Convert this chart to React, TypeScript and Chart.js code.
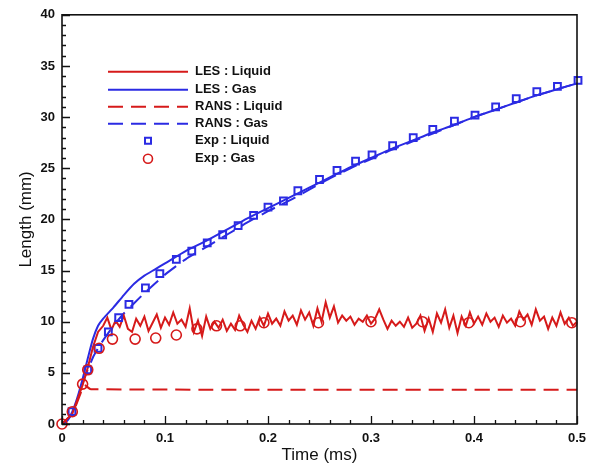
import { useEffect, useRef } from 'react';
import { Chart, registerables } from 'chart.js';
Chart.register(...registerables);

// ---- Data ----
const lesGasX = [0, 0.005, 0.01, 0.015, 0.02, 0.025, 0.03, 0.035, 0.04, 0.05, 0.06, 0.07, 0.08, 0.09, 0.1, 0.12, 0.14, 0.16, 0.18, 0.2, 0.22, 0.24, 0.26, 0.28, 0.3, 0.32, 0.34, 0.36, 0.38, 0.4, 0.42, 0.44, 0.46, 0.48, 0.5];
const lesGasY = [0, 0.3, 1.2, 2.6, 4.4, 6.4, 8.3, 9.6, 10.3, 11.4, 12.6, 13.7, 14.5, 15.1, 15.7, 16.9, 17.9, 19.0, 20.1, 21.1, 22.1, 23.1, 24.1, 25.1, 26.0, 26.9, 27.7, 28.5, 29.2, 30.0, 30.7, 31.4, 32.1, 32.7, 33.3];

const ransGasX = [0, 0.01, 0.02, 0.025, 0.03, 0.035, 0.04, 0.05, 0.06, 0.07, 0.08, 0.09, 0.1, 0.12, 0.14, 0.16, 0.18, 0.2, 0.22, 0.24, 0.26, 0.28, 0.3, 0.32, 0.34, 0.36, 0.38, 0.4, 0.42, 0.44, 0.46, 0.48, 0.5];
const ransGasY = [0, 1.0, 4.0, 5.3, 6.5, 7.4, 8.2, 9.6, 10.8, 11.8, 12.8, 13.7, 14.6, 16.1, 17.3, 18.5, 19.7, 20.8, 21.8, 22.9, 24.0, 25.0, 25.9, 26.8, 27.6, 28.4, 29.2, 30.0, 30.7, 31.4, 32.1, 32.7, 33.3];

const ransLiqX = [0, 0.01, 0.02, 0.022, 0.028, 0.5];
const ransLiqY = [0, 1.0, 3.5, 3.8, 3.4, 3.35];

const lesLiqX = [0, 0.01, 0.02, 0.025, 0.03, 0.035,
  0.040, 0.044, 0.048, 0.052, 0.056, 0.060, 0.064, 0.068, 0.072, 0.076, 0.080, 0.084, 0.088, 0.092, 0.096,
  0.100, 0.104, 0.108, 0.112, 0.116, 0.120, 0.124, 0.128, 0.132, 0.136, 0.140, 0.144, 0.148, 0.152, 0.156,
  0.160, 0.164, 0.168, 0.172, 0.176, 0.180, 0.184, 0.188, 0.192, 0.196, 0.200, 0.204, 0.208, 0.212, 0.216,
  0.220, 0.224, 0.228, 0.232, 0.236, 0.240, 0.244, 0.248, 0.252, 0.256, 0.260, 0.264, 0.268, 0.272, 0.276,
  0.280, 0.284, 0.288, 0.292, 0.296, 0.300, 0.304, 0.308, 0.312, 0.316, 0.320, 0.324, 0.328, 0.332, 0.336,
  0.340, 0.344, 0.348, 0.352, 0.356, 0.360, 0.364, 0.368, 0.372, 0.376, 0.380, 0.384, 0.388, 0.392, 0.396,
  0.400, 0.404, 0.408, 0.412, 0.416, 0.420, 0.424, 0.428, 0.432, 0.436, 0.440, 0.444, 0.448, 0.452, 0.456,
  0.460, 0.464, 0.468, 0.472, 0.476, 0.480, 0.484, 0.488, 0.492, 0.496, 0.500];
const lesLiqY = [0, 1.0, 3.8, 5.5, 7.5, 9.0,
  9.6, 10.4, 9.2, 10.1, 9.5, 10.6, 9.3, 9.0, 10.3, 9.6, 10.5, 9.1, 9.9, 10.7, 9.4,
  10.4, 9.7, 10.9, 9.8, 10.2, 9.5, 11.3, 9.0, 10.1, 8.6, 10.5, 9.3, 10.0, 9.4, 10.2,
  9.1, 9.8, 9.2, 10.6, 9.7, 9.0, 10.1, 9.3, 10.4, 9.6, 10.8, 9.8, 10.3, 9.6, 11.0,
  10.1, 10.6, 9.7, 11.1, 10.2, 10.9, 9.6, 11.3, 10.0, 11.9, 10.4, 11.5, 9.9, 10.6, 10.1,
  10.5, 9.7, 10.3, 10.0, 10.6, 9.8, 10.3, 11.2, 10.2, 9.3, 10.1, 9.6, 10.0, 9.5, 10.4,
  9.4, 9.8, 10.6, 9.1, 10.3, 9.0, 10.8, 9.9, 11.2, 9.4, 10.6, 8.9, 10.5, 9.6, 10.9,
  9.8, 10.5, 9.7, 10.8, 10.0, 10.4, 9.5, 10.6, 9.9, 10.3, 9.6, 11.0, 10.2, 10.7, 9.7,
  11.2, 10.1, 10.5, 9.3, 10.4, 9.6, 10.9, 9.8, 10.4, 9.6, 10.0];

const expLiqX = [0.0097, 0.025, 0.035, 0.045, 0.055, 0.065, 0.081, 0.095, 0.111, 0.126, 0.141, 0.156, 0.171, 0.186, 0.200, 0.215, 0.229, 0.250, 0.267, 0.285, 0.301, 0.321, 0.341, 0.360, 0.381, 0.401, 0.421, 0.441, 0.461, 0.481, 0.501];
const expLiqY = [1.2, 5.3, 7.4, 9.0, 10.4, 11.7, 13.3, 14.7, 16.1, 16.9, 17.7, 18.5, 19.4, 20.4, 21.2, 21.8, 22.8, 23.9, 24.8, 25.7, 26.3, 27.2, 28.0, 28.8, 29.6, 30.2, 31.0, 31.8, 32.5, 33.0, 33.6];

const expGasX = [0, 0.01, 0.02, 0.025, 0.036, 0.049, 0.071, 0.091, 0.111, 0.131, 0.150, 0.173, 0.196, 0.249, 0.300, 0.350, 0.395, 0.445, 0.495];
const expGasY = [0, 1.2, 3.9, 5.3, 7.4, 8.3, 8.3, 8.4, 8.7, 9.3, 9.6, 9.6, 9.9, 9.9, 10.0, 10.0, 9.9, 10.0, 9.9];

const xTicks = [0, 0.1, 0.2, 0.3, 0.4, 0.5];
const yTicks = [0, 5, 10, 15, 20, 25, 30, 35, 40];

const legendLabels = ['LES : Liquid', 'LES : Gas', 'RANS : Liquid', 'RANS : Gas', 'Exp : Liquid', 'Exp : Gas'];

const RED = '#d61a1a';
const BLUE = '#2b2be3';

const zip = (xs: number[], ys: number[]) => xs.map((x, i) => ({ x, y: ys[i] }));

const framePlugin = {
  id: 'frame',
  afterDraw(chart: any) {
    const { ctx, chartArea: a, scales } = chart;
    const xs = scales.x, ys = scales.y;
    ctx.save();
    ctx.strokeStyle = '#111';
    ctx.lineWidth = 1.6;
    ctx.strokeRect(a.left, a.top, a.right - a.left, a.bottom - a.top);
    ctx.lineWidth = 1.3;
    ctx.beginPath();
    for (let i = 0; i <= 25; i++) {
      const px = Math.round(xs.getPixelForValue(i * 0.02)) + 0.5;
      const len = i % 5 === 0 ? 8 : 4;
      ctx.moveTo(px, a.bottom);
      ctx.lineTo(px, a.bottom - len);
    }
    for (let i = 0; i <= 40; i++) {
      const py = Math.round(ys.getPixelForValue(i)) + 0.5;
      const len = i % 5 === 0 ? 8 : 4;
      ctx.moveTo(a.left, py);
      ctx.lineTo(a.left + len, py);
    }
    ctx.stroke();

    // legend
    const x0 = a.left + 46, x1 = a.left + 126, tx = a.left + 133;
    const rowY = [57, 75, 92, 109, 126, 144];
    ctx.font = 'bold 13px "Liberation Sans", Arial, sans-serif';
    ctx.textBaseline = 'middle';
    ctx.textAlign = 'left';
    chart.data.datasets.forEach((ds: any, i: number) => {
      const y = a.top + rowY[i];
      ctx.save();
      if (ds.showLine !== false) {
        ctx.strokeStyle = ds.borderColor;
        ctx.lineWidth = 2;
        ctx.setLineDash(ds.borderDash || []);
        ctx.beginPath();
        ctx.moveTo(x0, y);
        ctx.lineTo(x1, y);
        ctx.stroke();
      } else {
        const cx = (x0 + x1) / 2;
        ctx.strokeStyle = ds.borderColor;
        ctx.lineWidth = ds.borderWidth;
        ctx.beginPath();
        if (ds.pointStyle === 'rect') {
          ctx.rect(cx - 3, y - 3, 6, 6);
        } else {
          ctx.arc(cx, y, 4.5, 0, Math.PI * 2);
        }
        ctx.stroke();
      }
      ctx.restore();
      ctx.fillStyle = '#111';
      ctx.fillText(legendLabels[i], tx, y);
    });
    ctx.restore();
  },
};

export default function App() {
  const ref = useRef<HTMLCanvasElement>(null);
  useEffect(() => {
    document.body.style.margin = '0';
    const tickFont = { family: '"Liberation Sans", Arial, sans-serif', size: 13, weight: 'bold' as const };
    const titleFont = { family: '"Liberation Sans", Arial, sans-serif', size: 17 };
    const chart = new Chart(ref.current!, {
      type: 'line',
      data: {
        datasets: [
          { label: legendLabels[0], data: zip(lesLiqX, lesLiqY), borderColor: RED, borderWidth: 2, pointRadius: 0, tension: 0, order: 2 },
          { label: legendLabels[1], data: zip(lesGasX, lesGasY), borderColor: BLUE, borderWidth: 2, pointRadius: 0, tension: 0.2, order: 2 },
          { label: legendLabels[2], data: zip(ransLiqX, ransLiqY), borderColor: RED, borderWidth: 2, borderDash: [15, 8], pointRadius: 0, tension: 0.2, order: 2 },
          { label: legendLabels[3], data: zip(ransGasX, ransGasY), borderColor: BLUE, borderWidth: 2, borderDash: [15, 8], pointRadius: 0, tension: 0.2, order: 2 },
          { label: legendLabels[4], data: zip(expLiqX, expLiqY), borderColor: BLUE, backgroundColor: 'rgba(255,255,255,0)', borderWidth: 2, showLine: false, pointStyle: 'rect', pointRadius: 4.8, order: 1, clip: false },
          { label: legendLabels[5], data: zip(expGasX, expGasY), borderColor: RED, backgroundColor: 'rgba(255,255,255,0)', borderWidth: 1.6, showLine: false, pointStyle: 'circle', pointRadius: 5, order: 0, clip: false },
        ] as any,
      },
      options: {
        responsive: false,
        animation: false,
        devicePixelRatio: 1,
        layout: { padding: { left: 14, right: 17, top: 11, bottom: 0 } },
        plugins: { legend: { display: false }, tooltip: { enabled: false } },
        scales: {
          x: {
            type: 'linear',
            min: 0,
            max: 0.5,
            afterFit: (s: any) => { s.height = 43; },
            afterBuildTicks: (s: any) => { s.ticks = xTicks.map((v) => ({ value: v })); },
            grid: { display: false, drawTicks: false },
            border: { display: false },
            ticks: { font: tickFont, color: '#111', padding: 7, maxRotation: 0, callback: (v: any) => String(Number(v)) },
            title: { display: true, text: 'Time (ms)', font: titleFont, color: '#111', padding: { top: 0, bottom: 1 } },
          },
          y: {
            type: 'linear',
            min: 0,
            max: 40,
            afterFit: (s: any) => { s.width = 48; },
            afterBuildTicks: (s: any) => { s.ticks = yTicks.map((v) => ({ value: v })); },
            grid: { display: false, drawTicks: false },
            border: { display: false },
            ticks: { font: tickFont, color: '#111', padding: 7 },
            title: { display: true, text: 'Length (mm)', font: titleFont, color: '#111', padding: { top: 2, bottom: 0 } },
          },
        },
      },
      plugins: [framePlugin],
    });
    return () => chart.destroy();
  }, []);
  return <canvas ref={ref} width={594} height={467} style={{ display: 'block' }} />;
}
